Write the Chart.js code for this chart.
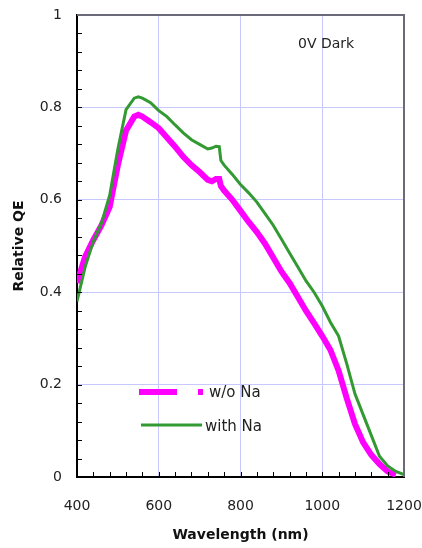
<!DOCTYPE html>
<html>
<head>
<meta charset="utf-8">
<script src="https://cdn.jsdelivr.net/npm/chart.js@4/dist/chart.umd.min.js"></script>
<style>
  html, body { margin: 0; padding: 0; background: #fff; }
  canvas { display: block; }
</style>
</head>
<body>
<canvas id="qeChart" width="422" height="548"></canvas>
<script>
const wavelengths = [400, 420, 440, 460, 480, 500, 520, 540, 550, 560, 580, 600, 620, 640, 660, 680, 700, 720, 730,
  740, 748, 752, 760, 780, 800, 820, 840, 860, 880, 900, 920, 940, 960, 980, 1000, 1020, 1040, 1060, 1080, 1100, 1120,
  1140, 1160, 1180, 1200];
const withNa = [0.38, 0.455, 0.51, 0.55, 0.61, 0.71, 0.795, 0.82, 0.823, 0.82, 0.81, 0.793, 0.78, 0.762, 0.745, 0.73,
  0.72, 0.71, 0.712, 0.716, 0.715, 0.685, 0.675, 0.655, 0.633, 0.615, 0.595, 0.57, 0.545, 0.515, 0.485, 0.455, 0.425,
  0.4, 0.37, 0.335, 0.305, 0.245, 0.18, 0.135, 0.09, 0.045, 0.024, 0.012, 0.005];
const withoutNa = [0.42, 0.477, 0.513, 0.545, 0.585, 0.675, 0.75, 0.78, 0.784, 0.78, 0.768, 0.755, 0.735, 0.715, 0.693,
  0.675, 0.66, 0.643, 0.64, 0.645, 0.645, 0.63, 0.62, 0.6, 0.576, 0.552, 0.53, 0.505, 0.475, 0.445, 0.42, 0.39, 0.36,
  0.333, 0.305, 0.275, 0.23, 0.17, 0.115, 0.075, 0.048, 0.028, 0.012, 0.005, null];
const xTicks = { min: 400, max: 1200, step: 200, minor: 40 };
const yTicks = { min: 0, max: 1, step: 0.2, minor: 0.04 };
const seriesLabels = ['w/o Na', 'with Na'];
const noteText = '0V Dark';

const FONT = "'DejaVu Sans', sans-serif";
const MAGENTA = '#ff00ff';
const GREEN = '#339933';
const GRID = '#c8c8ff';

const pts = (vals) => wavelengths.map((w, i) => ({ x: w, y: vals[i] }));

const framePlugin = {
  id: 'frame',
  afterDraw(chart) {
    const { ctx, chartArea: a, scales } = chart;
    ctx.save();
    // top and right frame
    ctx.strokeStyle = '#6a6a78';
    ctx.lineWidth = 2;
    ctx.beginPath();
    ctx.moveTo(a.left, a.top);
    ctx.lineTo(a.right, a.top);
    ctx.lineTo(a.right, a.bottom);
    ctx.stroke();

    // inward minor ticks
    ctx.strokeStyle = '#000';
    ctx.lineWidth = 1;
    ctx.beginPath();
    for (let v = xTicks.min + xTicks.minor; v < xTicks.max; v += xTicks.minor) {
      const px = Math.round(scales.x.getPixelForValue(v)) + 0.5;
      ctx.moveTo(px, a.bottom);
      ctx.lineTo(px, a.bottom - 5);
    }
    for (let k = 1; k * yTicks.minor < yTicks.max - 1e-9; k++) {
      const py = Math.round(scales.y.getPixelForValue(k * yTicks.minor)) + 0.5;
      ctx.moveTo(a.left, py);
      ctx.lineTo(a.left + 5, py);
    }
    ctx.stroke();

    // legend
    ctx.lineCap = 'butt';
    ctx.strokeStyle = MAGENTA;
    ctx.lineWidth = 6;
    ctx.beginPath();
    ctx.moveTo(139, 392);
    ctx.lineTo(177, 392);
    ctx.stroke();
    ctx.fillStyle = MAGENTA;
    ctx.fillRect(198, 389, 5, 6);
    ctx.strokeStyle = GREEN;
    ctx.lineWidth = 3;
    ctx.beginPath();
    ctx.moveTo(141, 425);
    ctx.lineTo(202, 425);
    ctx.stroke();

    ctx.fillStyle = '#222';
    ctx.font = `15px ${FONT}`;
    ctx.textAlign = 'left';
    ctx.textBaseline = 'middle';
    ctx.fillText(seriesLabels[0], 209, 393);
    ctx.fillText(seriesLabels[1], 205, 427);

    ctx.font = `14px ${FONT}`;
    ctx.fillText(noteText, 298, 44);
    ctx.restore();
  },
};

new Chart(document.getElementById('qeChart').getContext('2d'), {
  type: 'line',
  data: {
    datasets: [
      {
        label: seriesLabels[1],
        data: pts(withNa),
        borderColor: GREEN,
        borderWidth: 3,
        pointRadius: 0,
        tension: 0,
        fill: false,
      },
      {
        label: seriesLabels[0],
        data: pts(withoutNa),
        borderColor: MAGENTA,
        borderWidth: 6,
        pointRadius: 0,
        tension: 0,
        fill: false,
      },
    ],
  },
  options: {
    responsive: false,
    animation: false,
    layout: { padding: { top: 15, right: 18, left: 0, bottom: 0 } },
    plugins: { legend: { display: false }, tooltip: { enabled: false } },
    scales: {
      x: {
        type: 'linear',
        min: xTicks.min,
        max: xTicks.max,
        afterFit: (s) => {
          s.height = 71;
          s.paddingLeft = 0;
          s.paddingRight = 0;
        },
        ticks: {
          stepSize: xTicks.step,
          color: '#222',
          padding: 21,
          font: { family: FONT, size: 14 },
          maxRotation: 0,
          callback: (v) => String(v),
        },
        grid: { color: GRID, lineWidth: 1, drawTicks: false },
        border: { display: true, color: '#000', width: 2 },
        title: {
          display: true,
          text: 'Wavelength (nm)',
          color: '#111',
          font: { family: FONT, size: 14, weight: 'bold' },
          padding: { top: 0, bottom: 4 },
        },
      },
      y: {
        min: yTicks.min,
        max: yTicks.max,
        afterFit: (s) => {
          s.width = 77;
          s.paddingTop = 0;
          s.paddingBottom = 0;
        },
        ticks: {
          stepSize: yTicks.step,
          color: '#222',
          padding: 15,
          font: { family: FONT, size: 14 },
          callback: (v) => String(+v.toFixed(1)),
        },
        grid: { color: GRID, lineWidth: 1, drawTicks: false },
        border: { display: true, color: '#000', width: 2 },
        title: {
          display: true,
          text: 'Relative QE',
          color: '#111',
          font: { family: FONT, size: 14, weight: 'bold' },
          padding: { top: 11, bottom: 0 },
        },
      },
    },
  },
  plugins: [framePlugin],
});
</script>
</body>
</html>
